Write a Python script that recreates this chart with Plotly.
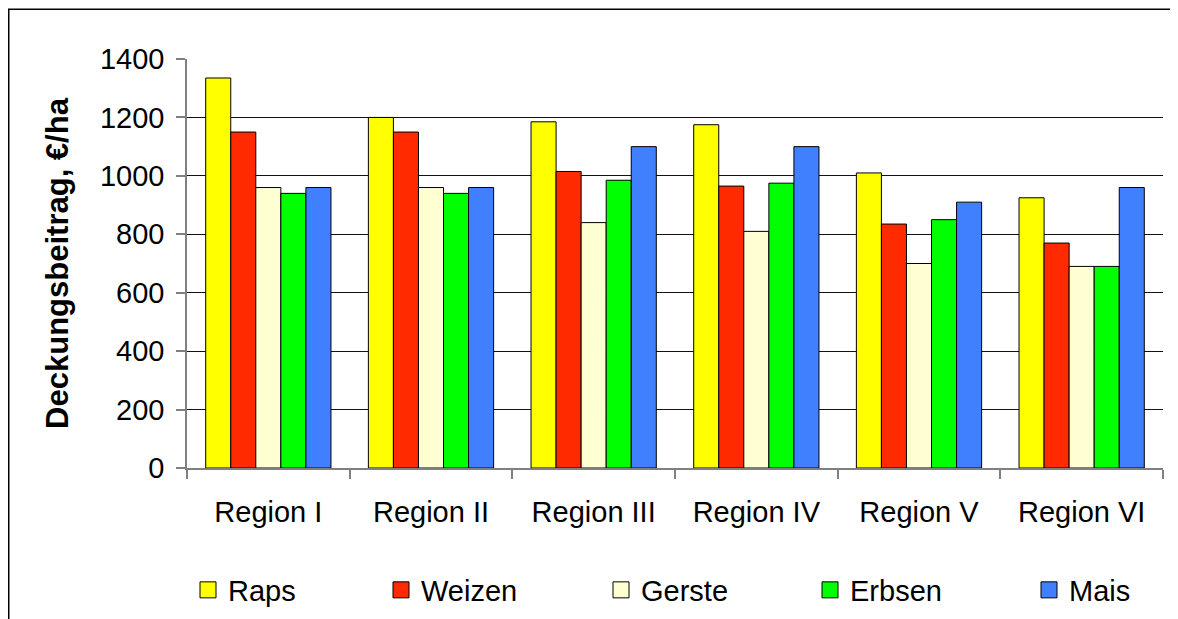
"""Deckungsbeitrag je Region und Kultur als gruppiertes Balkendiagramm."""

import plotly.graph_objects as go

regions = ["Region I", "Region II", "Region III", "Region IV", "Region V", "Region VI"]
crops = ["Raps", "Weizen", "Gerste", "Erbsen", "Mais"]

raps = [1335, 1200, 1185, 1175, 1010, 925]
weizen = [1150, 1150, 1015, 965, 835, 770]
gerste = [960, 960, 840, 810, 700, 690]
erbsen = [940, 940, 985, 975, 850, 690]
mais = [960, 960, 1100, 1100, 910, 960]

y_ticks = [0, 200, 400, 600, 800, 1000, 1200, 1400]

colors = {
    "Raps": "#FFFF00",
    "Weizen": "#FF2A00",
    "Gerste": "#FFFFD2",
    "Erbsen": "#00FF00",
    "Mais": "#4080FF",
}

FONT = "Liberation Sans, Arial, sans-serif"

# the page puts the figure 8px in from the top-left corner
W, H = 1170, 611
L, R, T, B = 179, 15, 50.5, 151
PW = W - L - R
PH = H - T - B
X_AXIS = H - B

fig = go.Figure()

series = dict(zip(crops, [raps, weizen, gerste, erbsen, mais]))
for name, values in series.items():
    fig.add_trace(
        go.Bar(
            name=name,
            x=regions,
            y=values,
            marker=dict(color=colors[name], line=dict(color="#000000", width=1)),
            showlegend=False,
        )
    )

# legend-only entries, each in its own legend so the spacing matches
legend_px = [180, 373, 593, 802, 1021]
legend_layout = {}
for i, (name, px) in enumerate(zip(crops, legend_px)):
    key = "legend" if i == 0 else f"legend{i + 1}"
    fig.add_trace(
        go.Scatter(
            x=[None],
            y=[None],
            mode="markers",
            name=name,
            marker=dict(
                symbol="square",
                size=17,
                color=colors[name],
                line=dict(color="#000000", width=1),
            ),
            legend=key,
            showlegend=True,
        )
    )
    legend_layout[key] = dict(
        xref="container",
        yref="container",
        x=px / W,
        xanchor="left",
        y=(H - 582) / H,
        yanchor="middle",
        orientation="h",
        font=dict(family=FONT, size=29, color="#000000"),
        bgcolor="rgba(0,0,0,0)",
        borderwidth=0,
    )

fig.update_layout(
    width=W,
    height=H,
    margin=dict(l=L, r=R, t=T, b=B, autoexpand=False),
    paper_bgcolor="#FFFFFF",
    plot_bgcolor="#FFFFFF",
    barmode="group",
    bargap=0.23,
    bargroupgap=0,
    font=dict(family=FONT, size=29, color="#000000"),
    **legend_layout,
)

fig.update_xaxes(
    type="category",
    automargin=False,
    showline=True,
    linecolor="#808080",
    linewidth=1.5,
    ticks="outside",
    tickson="boundaries",
    ticklen=9,
    tickcolor="#808080",
    tickwidth=1.5,
    ticklabelstandoff=17,
    tickfont=dict(family=FONT, size=29, color="#000000"),
    showgrid=False,
)

fig.update_yaxes(
    range=[0, 1400],
    automargin=False,
    tickvals=y_ticks,
    showline=True,
    linecolor="#808080",
    linewidth=1.5,
    ticks="outside",
    ticklen=9,
    tickcolor="#808080",
    tickwidth=1.5,
    ticklabelstandoff=6,
    tickfont=dict(family=FONT, size=29, color="#000000"),
    showgrid=True,
    gridcolor="#111111",
    gridwidth=1,
    zeroline=False,
    title=dict(
        text="<b>Deckungsbeitrag, €/ha</b>",
        font=dict(family=FONT, size=31, color="#000000"),
        standoff=22,
    ),
)

# outer chart frame (runs off the right and bottom of the picture)
fig.add_shape(
    type="rect",
    xref="paper",
    yref="paper",
    x0=(0.75 - L) / PW,
    x1=(W + 20 - L) / PW,
    y0=(X_AXIS - H - 20) / PH,
    y1=(X_AXIS - 0.75) / PH,
    line=dict(color="#000000", width=1.5),
    fillcolor="rgba(0,0,0,0)",
    layer="below",
)

fig.write_html("out.html")
